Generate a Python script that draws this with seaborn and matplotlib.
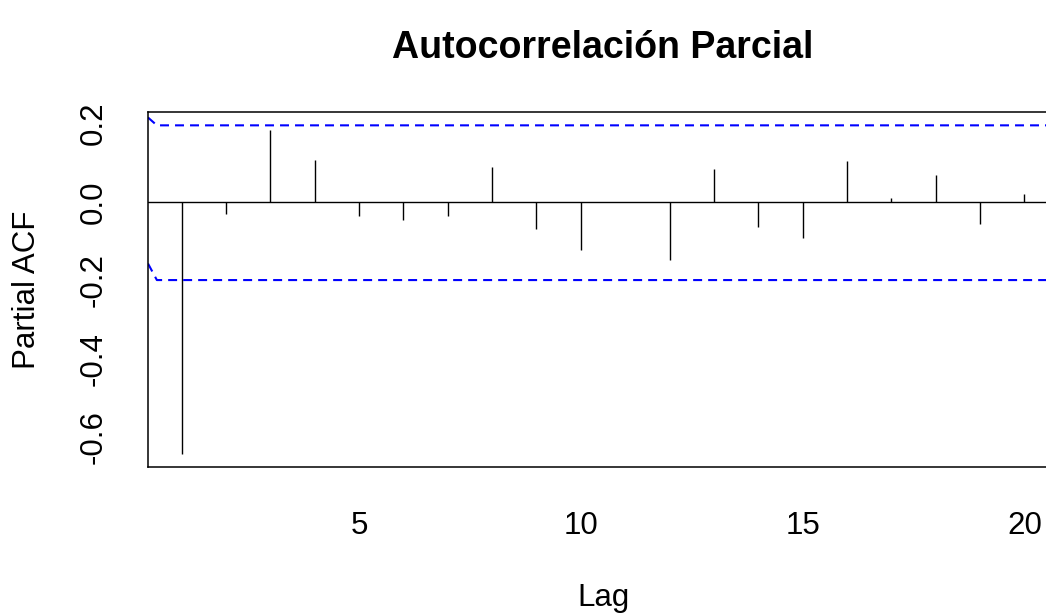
import seaborn as sns
import matplotlib.pyplot as plt
import pandas as pd

# PACF values (lags 1..20)
lags = list(range(1, 21))
pacf = [-0.643, -0.030, 0.184, 0.108, -0.036, -0.045, -0.036, 0.088, -0.069, -0.122,
        0.000, -0.147, 0.083, -0.064, -0.093, 0.103, 0.011, 0.069, -0.055, 0.020]

# confidence band (starts with a short slanted piece at the left edge)
ci_x = [0.24, 0.44, 20.76]
ci_upper = [0.215, 0.195, 0.195]
ci_lower = [-0.157, -0.199, -0.199]

x_ticks = [5, 10, 15, 20]
y_ticks = [0.2, 0.0, -0.2, -0.4, -0.6]

sns.set_style("white")
plt.rcParams["font.family"] = ["Liberation Sans", "DejaVu Sans"]
plt.rcParams["text.color"] = "black"
plt.rcParams["axes.labelcolor"] = "black"

fig = plt.figure(figsize=(10.46, 6.13), dpi=100)
ax = fig.add_axes([0.1415, 0.2382, 0.870, 0.5791])

df = pd.DataFrame({"lag": lags, "pacf": pacf})
ax.vlines(df["lag"], 0, df["pacf"], color="black", linewidth=1.0)
ax.axhline(0, color="black", linewidth=1.0)

ci = pd.DataFrame({"x": ci_x, "upper": ci_upper, "lower": ci_lower})
for col in ["upper", "lower"]:
    sns.lineplot(data=ci, x="x", y=col, ax=ax, color="#0000FF", linewidth=1.5,
                 linestyle=(0, (4.3, 2.9)), estimator=None, sort=False)

ax.set_xlim(0.24, 20.76)
ax.set_ylim(-0.675, 0.229)
ax.set_xticks(x_ticks)
ax.set_xticklabels([str(t) for t in x_ticks])
ax.set_yticks(y_ticks)
ax.set_yticklabels([f"{t:.1f}" for t in y_ticks], rotation=90, va="center")

ax.tick_params(axis="both", direction="out", length=12, width=1.0,
               labelsize=22.5, color="black", labelcolor="black")
ax.tick_params(axis="x", pad=20)
ax.tick_params(axis="y", pad=16)
for s in ax.spines.values():
    s.set_color("black")
    s.set_linewidth(1.1)

ax.set_xlabel("Lag", fontsize=22.5, color="black")
ax.set_ylabel("Partial ACF", fontsize=22.5, color="black")
ax.xaxis.set_label_coords(0.5, -0.369)
ax.xaxis.label.set_va("center")
ax.yaxis.set_label_coords(-0.133, 0.5)
ax.yaxis.label.set_va("center")

ax.set_title("Autocorrelación Parcial", fontsize=27, fontweight="bold",
             color="black", pad=39)

plt.savefig("out.png", dpi=100)
